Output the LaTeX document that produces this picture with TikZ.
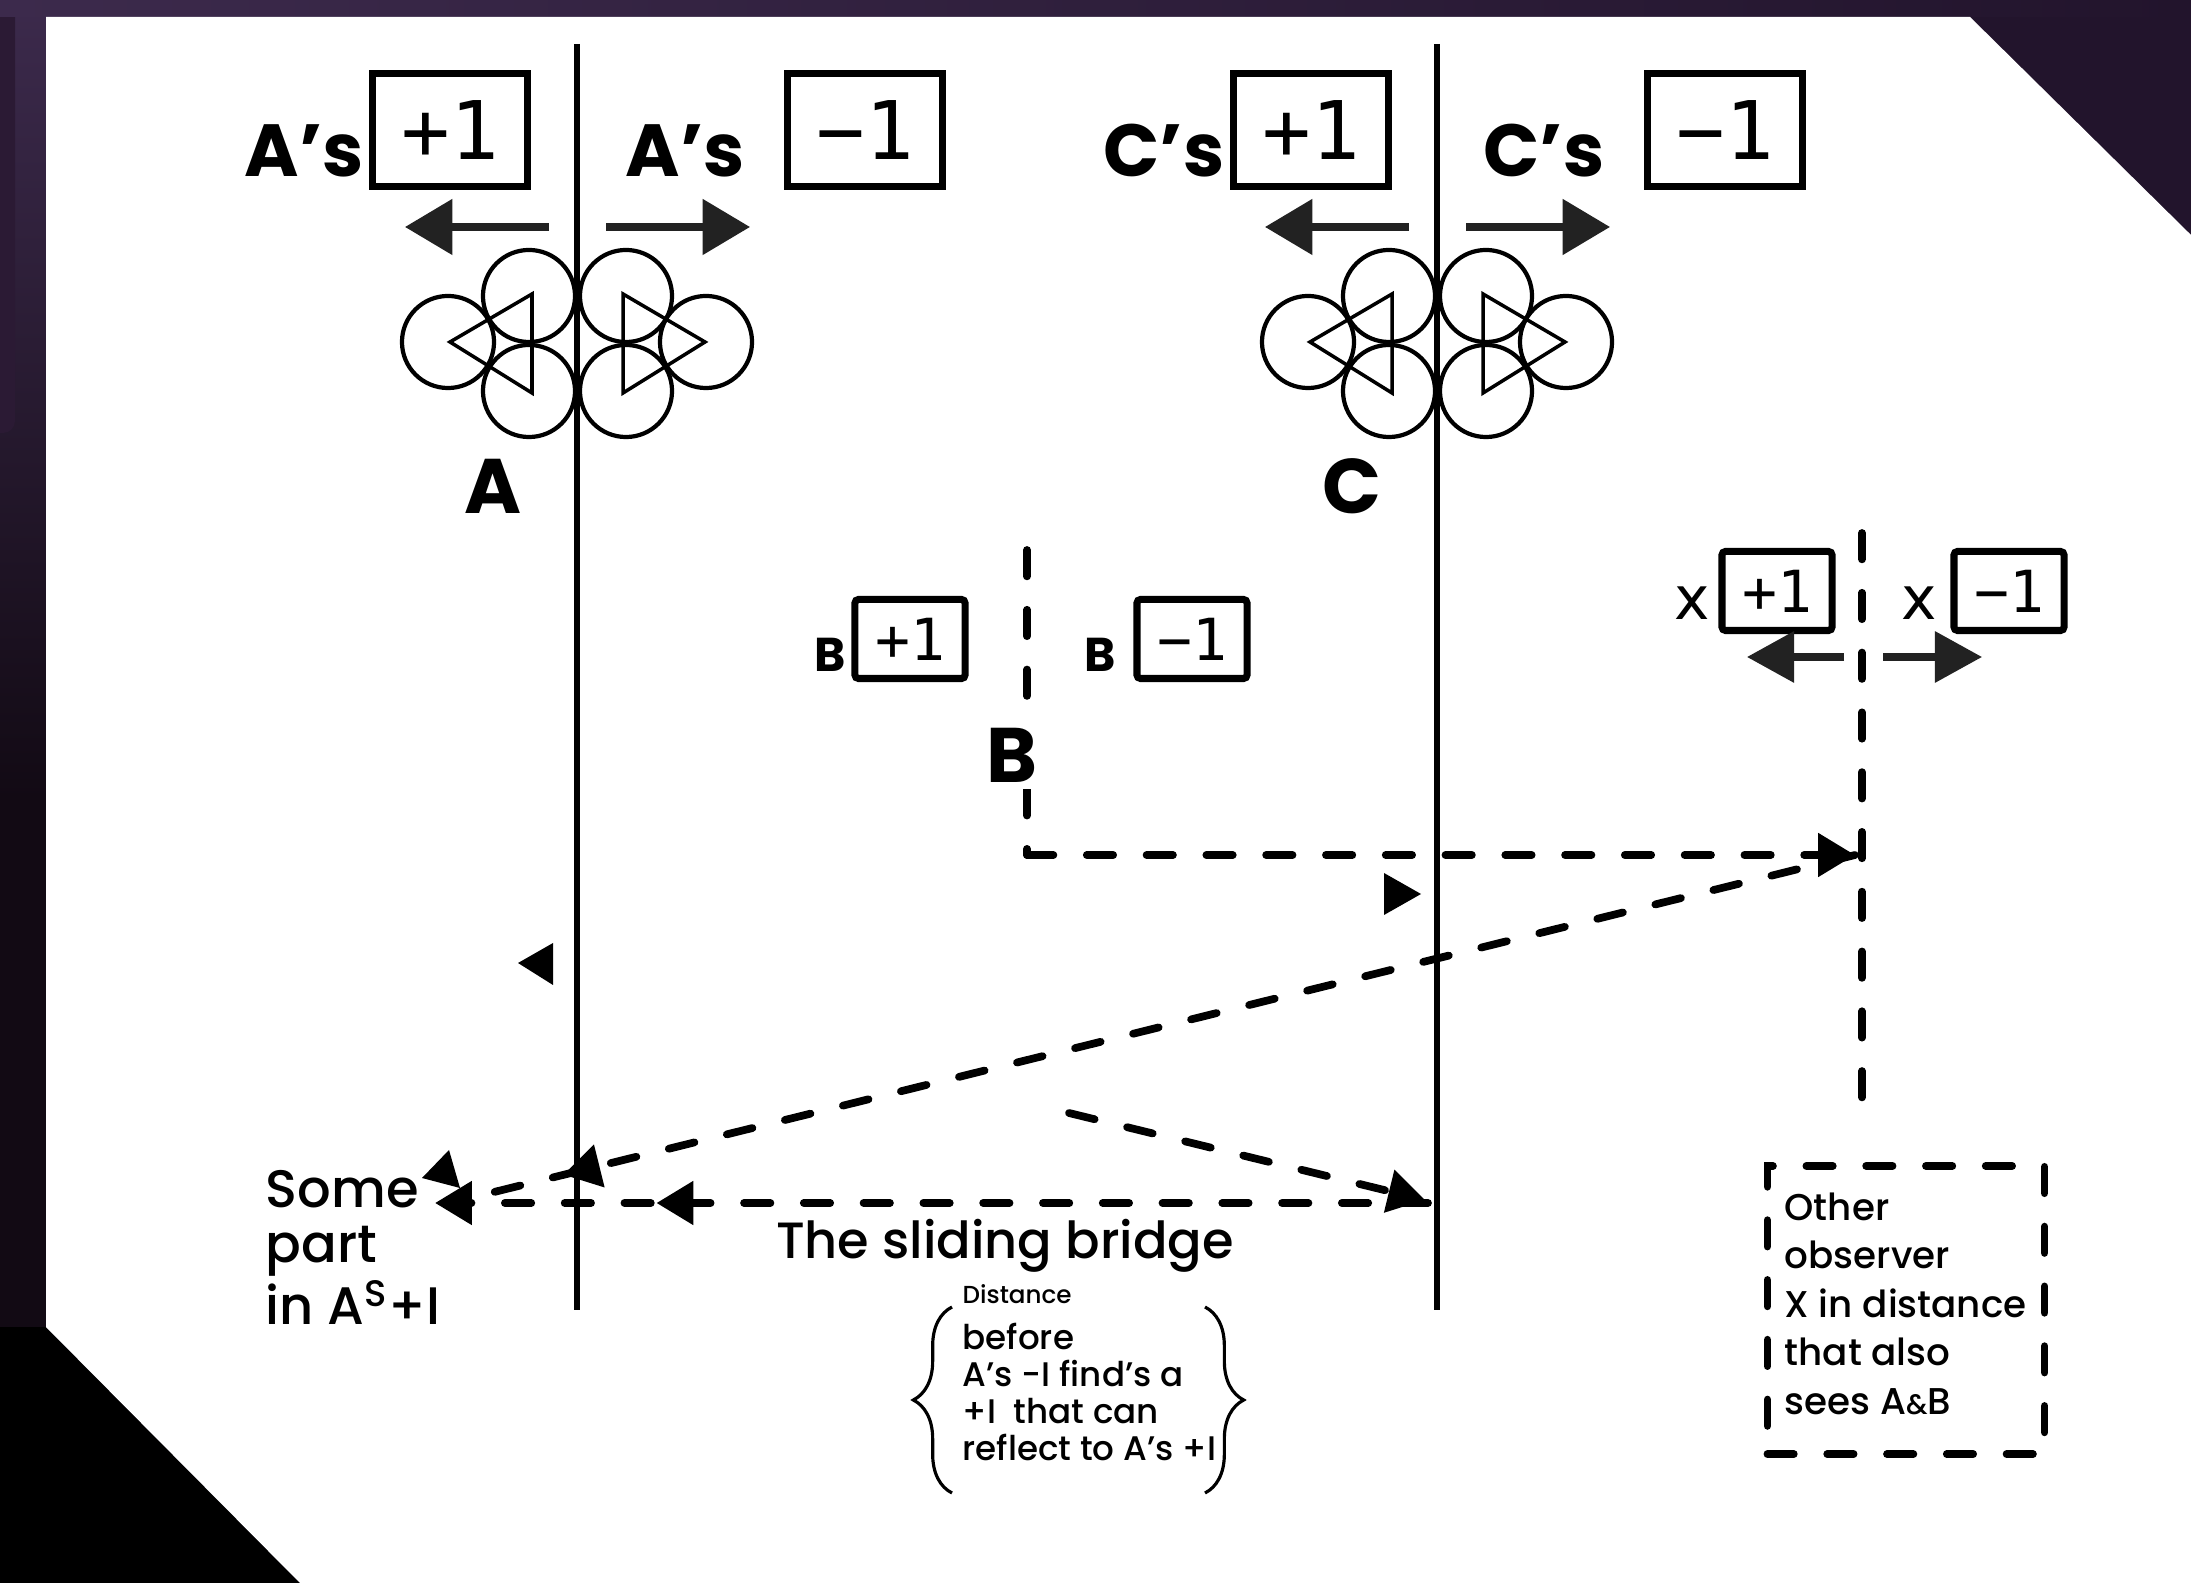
\documentclass[tikz,border=0pt]{standalone}
\usepackage{fontspec}
\setmainfont{Poppins}
\newfontfamily\mono{DejaVu Sans Mono}
\newfontfamily\dvs{DejaVu Sans}
\newfontfamily\popmed{Poppins Medium}
\usetikzlibrary{arrows.meta,decorations.pathreplacing,decorations.markings}
\definecolor{bgtop}{HTML}{3C2A4C}
\definecolor{bgmid}{HTML}{2B1A34}
\definecolor{bgdark}{HTML}{22142C}
\definecolor{bglow}{HTML}{120A14}
\definecolor{arrowgray}{HTML}{222222}
\tikzset{
  mainline/.style={line width=1.45pt},
  dashline/.style={line width=2.2pt, line cap=round, dash pattern=on 7.5pt off 9.5pt},
  dasharrow/.style={dashline, -{Triangle[length=10.5pt,width=12pt]}},
  midarrow/.style={postaction={decorate}, decoration={markings, mark=at position #1 with {\arrow{Triangle[length=10.5pt,width=12pt]}}}},
  bigarrow/.style={draw=arrowgray, line width=2pt, -{Triangle[length=13.5pt,width=15.5pt]}},
  smallarrow/.style={draw=arrowgray, line width=2pt, -{Triangle[length=13.4pt,width=14.2pt]}},
  numbig/.style={draw, line width=2pt, minimum width=1.55cm, minimum height=1.13cm, inner sep=0pt, font=\mono\fontsize{23}{23}\selectfont},
  numsmall/.style={draw, line width=2pt, rounded corners=1pt, minimum width=1.1cm, minimum height=0.79cm, inner sep=0pt, font=\mono\fontsize{16.5}{16.5}\selectfont},
  lbl/.style={font=\bfseries\fontsize{21}{24}\selectfont, inner sep=0pt},
  biglbl/.style={font=\bfseries\fontsize{22}{26}\selectfont, inner sep=0pt},
  smlbl/.style={font=\bfseries\fontsize{13.5}{16}\selectfont, inner sep=0pt},
  xlbl/.style={font=\dvs\fontsize{17}{18}\selectfont, inner sep=0pt},
  ring/.style={line width=1.2pt},
  tri/.style={line width=1pt, line join=miter}
}
\begin{document}
\begin{tikzpicture}[x=0.01cm,y=-0.01cm]
\useasboundingbox (0,0) rectangle (2191,1583);
% background
\fill[bgdark] (0,0) rectangle (2191,1583);
\shade[top color=bgtop, bottom color=bglow] (0,0) rectangle (46,800);
\fill[bglow] (0,800) rectangle (46,1583);
\fill[bgmid] (0,0) -- (15,0) [rounded corners=0.12cm] -- (15,433) [sharp corners] -- (0,433) -- cycle;
\shade[left color=bgtop, right color=bgdark] (0,0) rectangle (2191,17);
\fill[black] (0,1327) -- (46,1327) -- (300,1583) -- (0,1583) -- cycle;
\fill[white] (46,17) -- (1970,17) -- (2191,235) -- (2191,1583) -- (300,1583) -- (46,1327) -- cycle;

% main observer lines
\coordinate (Atop) at (577,44);
\coordinate (Abot) at (577,1310);
\coordinate (Ctop) at (1437,44);
\coordinate (Cbot) at (1437,1310);
\draw[mainline] (Atop) -- (Abot);
\draw[mainline] (Ctop) -- (Cbot);

% top boxes and labels
\node[numbig] (Ap) at (450,130) {+1};
\node[numbig] (Am) at (865,130) {−1};
\node[numbig] (Cp) at (1311,130) {+1};
\node[numbig] (Cm) at (1725,130) {−1};
\node[lbl] (lAp) at (304,151) {A’s};
\node[lbl] (lAm) at (685,151) {A’s};
\node[lbl] (lCp) at (1164,151) {C’s};
\node[lbl] (lCm) at (1544,151) {C’s};

% top arrows
\coordinate (aL1) at (549,227); \coordinate (aL2) at (405,227);
\coordinate (aR1) at (606,227); \coordinate (aR2) at (750,227);
\coordinate (cL1) at (1409,227); \coordinate (cL2) at (1265,227);
\coordinate (cR1) at (1466,227); \coordinate (cR2) at (1610,227);
\draw[bigarrow] (aL1) -- (aL2);
\draw[bigarrow] (aR1) -- (aR2);
\draw[bigarrow] (cL1) -- (cL2);
\draw[bigarrow] (cR1) -- (cR2);

% circle clusters
\foreach \o in {0,860}{
  \draw[ring] (529+\o,296) circle[radius=0.46cm];
  \draw[ring] (448+\o,342) circle[radius=0.46cm];
  \draw[ring] (529+\o,391) circle[radius=0.46cm];
  \draw[ring] (626+\o,296) circle[radius=0.46cm];
  \draw[ring] (706+\o,342) circle[radius=0.46cm];
  \draw[ring] (626+\o,391) circle[radius=0.46cm];
  \draw[tri] (532+\o,294) -- (532+\o,393) -- (450+\o,342) -- cycle;
  \draw[tri] (623+\o,294) -- (623+\o,393) -- (705+\o,342) -- cycle;
}
\node[biglbl] (lA) at (493,486) {A};
\node[biglbl] (lC) at (1352,486) {C};

% B observer
\coordinate (Btop) at (1027,550);
\coordinate (Bfoot) at (1027,855);
\draw[dashline] (Btop) -- (Bfoot);
\node[biglbl, fill=white, inner sep=2pt] (lB) at (1012,755) {B};
\node[numsmall] (Bp) at (910,639) {+1};
\node[numsmall] (Bm) at (1192,639) {−1};
\node[smlbl] (lBp) at (830,655) {B};
\node[smlbl] (lBm) at (1100,655) {B};

% X observer
\coordinate (Xtop) at (1862,533);
\coordinate (Xbot) at (1862,1118);
\draw[dashline] (Xtop) -- (Xbot);
\node[numsmall] (Xp) at (1777,591) {+1};
\node[numsmall] (Xm) at (2009,591) {−1};
\node[xlbl] (lXp) at (1692,603) {x};
\node[xlbl] (lXm) at (1919,603) {x};
\coordinate (xL1) at (1844,657); \coordinate (xL2) at (1747,657);
\coordinate (xR1) at (1883,657); \coordinate (xR2) at (1982,657);
\draw[smallarrow] (xL1) -- (xL2);
\draw[smallarrow] (xR1) -- (xR2);

% signals
\coordinate (hit) at (1855,855);
\coordinate (slantEnd) at (478,1196);
\coordinate (sStart) at (1069,1113);
\coordinate (sEnd) at (1425,1200);
\coordinate (cFoot) at (1428,1203);
\coordinate (someTip) at (435,1203);
\draw[dasharrow] (Bfoot) -- (hit);
\draw[dashline, midarrow=0.938] (hit) -- (slantEnd);
\fill (449,1150) -- (422,1178) -- (460,1188) -- cycle;
\draw[dasharrow] (sStart) -- (sEnd);
\draw[dasharrow, midarrow=0.777] (cFoot) -- (someTip);

% small direction markers
\fill (518,963) -- (553,943) -- (553,985) -- cycle;
\fill (1384,873) -- (1384,915) -- (1421,894) -- cycle;

% texts
\node[anchor=north west, align=left, inner sep=0pt, font=\popmed\fontsize{15}{15.6}\selectfont] (some) at (265,1170) {Some\\part\\in A\textsuperscript{S}+I};
\node[anchor=base, inner sep=0pt, font=\popmed\fontsize{14.5}{16}\selectfont] (bridge) at (1005,1258) {The sliding bridge};
\node[anchor=base west, inner sep=0pt, font=\popmed\fontsize{7}{8}\selectfont] (dist) at (962,1303) {Distance};
\node[anchor=north west, align=left, inner sep=0pt, font=\popmed\fontsize{9.7}{10.6}\selectfont] (brtext) at (962,1322) {before\\A’s -I find’s a\\+I\ \ that can\\reflect to A’s +I};
\coordinate (lbB) at (952,1493); \coordinate (lbT) at (952,1307);
\coordinate (rbT) at (1205,1307); \coordinate (rbB) at (1205,1493);
\draw[line width=0.9pt, decorate, decoration={brace, amplitude=11pt}] (lbB) -- (lbT);
\draw[line width=0.9pt, decorate, decoration={brace, amplitude=11pt}] (rbT) -- (rbB);

\node[draw, dashline, minimum width=2.77cm, minimum height=2.88cm, inner sep=0pt] (obs) at (1906,1310) {};
\node[anchor=north west, align=left, inner sep=0pt, font=\popmed\fontsize{10.6}{13.8}\selectfont] (obstext) at (1784,1192) {Other\\observer\\X in distance\\that also\\sees A{\fontsize{8}{8}\selectfont\&}B};
\end{tikzpicture}
\end{document}
